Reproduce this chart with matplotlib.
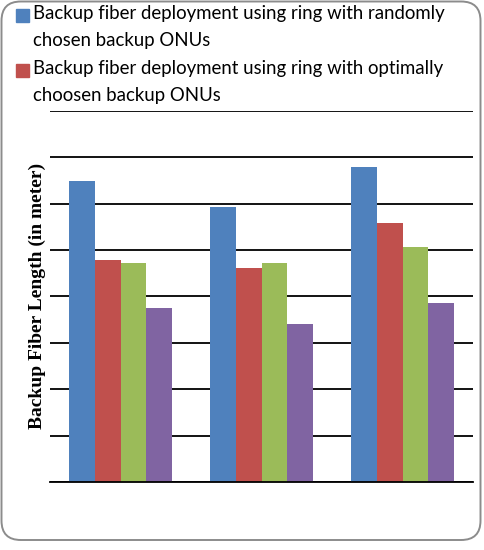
import numpy as np
import matplotlib
matplotlib.use("Agg")
import matplotlib.pyplot as plt
from matplotlib.patches import FancyBboxPatch, Rectangle

categories = ["Case 1", "Case 2", "Case 3"]
series_names = [
    "Backup fiber deployment using ring with randomly\nchosen backup ONUs",
    "Backup fiber deployment using ring with optimally\nchoosen backup ONUs",
    "Series 3",
    "Series 4",
]
random_ring = [6.48, 5.93, 6.78]
optimal_ring = [4.78, 4.61, 5.57]
series3 = [4.71, 4.72, 5.06]
series4 = [3.75, 3.41, 3.85]
values = [random_ring, optimal_ring, series3, series4]
colors = ["#4F81BD", "#C0504D", "#9BBB59", "#8064A2"]

W, H = 484, 550
fig = plt.figure(figsize=(W / 100, H / 100), dpi=100)

# rounded frame around the whole chart
frame = FancyBboxPatch((1.5 / W, 1 - 540 / H), 479 / W, 538.5 / H,
                       boxstyle="round,pad=0,rounding_size=0.04",
                       transform=fig.transFigure, facecolor="none",
                       edgecolor="#8c8c8c", linewidth=1.4, mutation_aspect=W / H)
fig.patches.append(frame)

ax = fig.add_axes([50 / W, 1 - 482 / H, 423 / W, (482 - 110.7) / H])

x = np.arange(len(categories))
width = 1 / 5.5
for i, (vals, col) in enumerate(zip(values, colors)):
    ax.bar(x + (i - 1.5) * width, vals, width, color=col, zorder=3)

ax.set_xlim(-0.5, len(categories) - 0.5)
ax.set_ylim(0, 8)
ax.set_yticks(np.arange(0, 9, 1))
ax.yaxis.grid(True, color="black", linewidth=1.3, zorder=0)
ax.tick_params(left=False, bottom=False, labelleft=False, labelbottom=False)
for s in ["left", "right", "top"]:
    ax.spines[s].set_visible(False)
ax.spines["bottom"].set_linewidth(1.3)
ax.spines["bottom"].set_zorder(4)

ax.set_ylabel("Backup Fiber Length (in meter)", family="Liberation Serif",
              fontweight="bold", fontsize=14, labelpad=3)

# legend (only the first two entries are visible in the chart)
for k in range(2):
    top = 8 + k * 55
    fig.patches.append(Rectangle((16 / W, 1 - (top + 14) / H), 13 / W, 13 / H,
                                 transform=fig.transFigure, color=colors[k]))
    fig.text(33 / W, 1 - (top - 3) / H, series_names[k], family="Lato",
             fontsize=13.4, va="top", ha="left", linespacing=1.72)

fig.savefig("out.png", dpi=100)
